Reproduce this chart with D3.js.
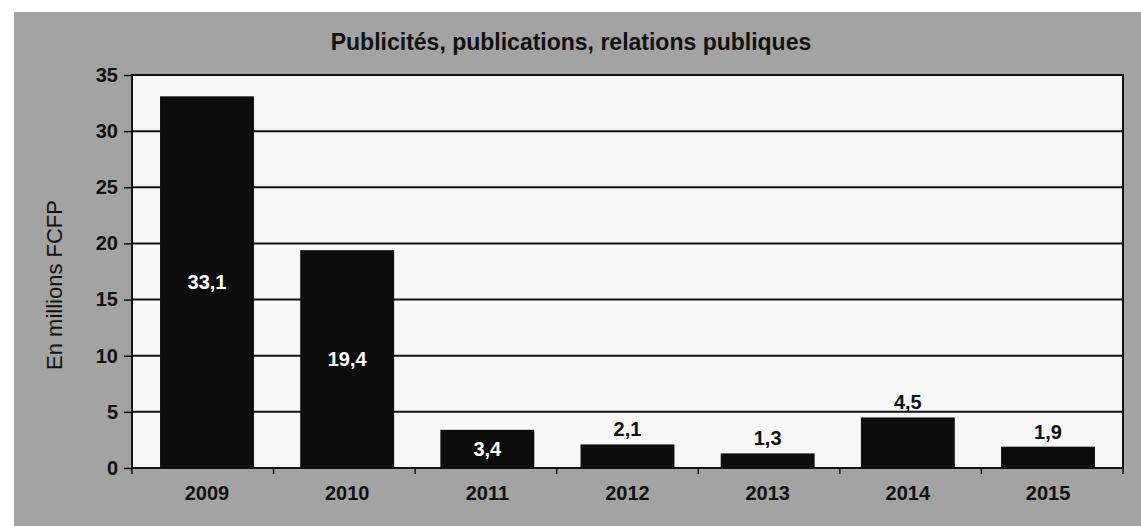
<!DOCTYPE html>
<html>
<head>
<meta charset="utf-8">
<script src="https://cdn.jsdelivr.net/npm/d3@7"></script>
<style>
  body { margin: 0; background: #fff; }
  text { font-family: Arial, "Liberation Sans", sans-serif; }
</style>
</head>
<body>
<div id="chart"></div>
<script>
const years = ['2009', '2010', '2011', '2012', '2013', '2014', '2015']
const values = [33.1, 19.4, 3.4, 2.1, 1.3, 4.5, 1.9]
// true = label drawn inside the bar in white, false = above the bar
const labelInside = [true, true, true, false, false, false, false]
const yTicks = [0, 5, 10, 15, 20, 25, 30, 35]
const title = 'Publicités, publications, relations publiques'
const yTitle = 'En millions FCFP'

const width = 1141
const height = 526
const plot = { left: 132, right: 1123, top: 75, bottom: 468 }

const svg = d3.select('#chart')
    .append('svg')
    .attr('width', width)
    .attr('height', height)

/* grey scanned background */
svg.append('rect')
    .attr('x', 14)
    .attr('y', 12)
    .attr('width', width - 14)
    .attr('height', height - 12)
    .attr('fill', '#a3a3a3')

/* plot area */
svg.append('rect')
    .attr('x', plot.left)
    .attr('y', plot.top)
    .attr('width', plot.right - plot.left)
    .attr('height', plot.bottom - plot.top)
    .attr('fill', '#f7f7f7')

const xScale = d3.scaleBand()
    .domain(years)
    .range([plot.left, plot.right])
    .paddingInner(0.33)
    .paddingOuter(0.2)

const yScale = d3.scaleLinear()
    .domain([0, 35])
    .range([plot.bottom, plot.top])

/* gridlines */
svg.append('g')
    .selectAll('line')
    .data(yTicks)
    .enter()
    .append('line')
    .attr('x1', plot.left)
    .attr('x2', plot.right)
    .attr('y1', d => yScale(d))
    .attr('y2', d => yScale(d))
    .attr('stroke', '#111')
    .attr('stroke-width', 2)

/* bars */
svg.append('g')
    .selectAll('rect')
    .data(values)
    .enter()
    .append('rect')
    .attr('x', (d, i) => xScale(years[i]))
    .attr('y', d => yScale(d))
    .attr('width', xScale.bandwidth())
    .attr('height', d => yScale(0) - yScale(d))
    .attr('fill', '#0d0d0d')

/* frame */
svg.append('rect')
    .attr('x', plot.left)
    .attr('y', plot.top)
    .attr('width', plot.right - plot.left)
    .attr('height', plot.bottom - plot.top)
    .attr('fill', 'none')
    .attr('stroke', '#111')
    .attr('stroke-width', 2)

/* y axis */
const yAxis = d3.axisLeft(yScale)
    .tickValues(yTicks)
    .tickSize(8)
    .tickPadding(6)

svg.append('g')
    .attr('transform', `translate(${plot.left},0)`)
    .call(yAxis)
    .call(g => g.select('.domain').remove())
    .call(g => g.selectAll('line').attr('stroke', '#111').attr('stroke-width', 1.5))
    .selectAll('text')
    .attr('fill', '#111')
    .style('font-size', '20px')
    .style('font-weight', 'bold')

/* x axis */
const xAxis = d3.axisBottom(xScale)
    .tickSize(0)
    .tickPadding(18)

svg.append('g')
    .attr('transform', `translate(0,${plot.bottom})`)
    .call(xAxis)
    .call(g => g.select('.domain').remove())
    .selectAll('text')
    .attr('fill', '#111')
    .style('font-size', '20px')
    .style('font-weight', 'bold')

/* small tick marks between categories */
const catWidth = (plot.right - plot.left) / years.length
svg.append('g')
    .selectAll('line')
    .data(d3.range(years.length + 1))
    .enter()
    .append('line')
    .attr('x1', i => plot.left + i * catWidth)
    .attr('x2', i => plot.left + i * catWidth)
    .attr('y1', plot.bottom)
    .attr('y2', plot.bottom + 6)
    .attr('stroke', '#111')
    .attr('stroke-width', 1.5)

/* data labels */
svg.append('g')
    .selectAll('text')
    .data(values)
    .enter()
    .append('text')
    .text(d => d3.format('.1f')(d).replace('.', ','))
    .attr('x', (d, i) => xScale(years[i]) + xScale.bandwidth() / 2)
    .attr('y', (d, i) => labelInside[i]
        ? (yScale(d) + yScale(0)) / 2 + 7
        : yScale(d) - 8)
    .attr('text-anchor', 'middle')
    .attr('fill', (d, i) => labelInside[i] ? '#fff' : '#111')
    .style('font-size', '20px')
    .style('font-weight', 'bold')

/* title */
svg.append('text')
    .text(title)
    .attr('x', 571)
    .attr('y', 50)
    .attr('text-anchor', 'middle')
    .attr('fill', '#111')
    .style('font-size', '23px')
    .style('font-weight', 'bold')

/* y label */
svg.append('text')
    .text(yTitle)
    .attr('transform', `translate(62,285) rotate(-90)`)
    .attr('text-anchor', 'middle')
    .attr('fill', '#111')
    .style('font-size', '22px')
</script>
</body>
</html>
